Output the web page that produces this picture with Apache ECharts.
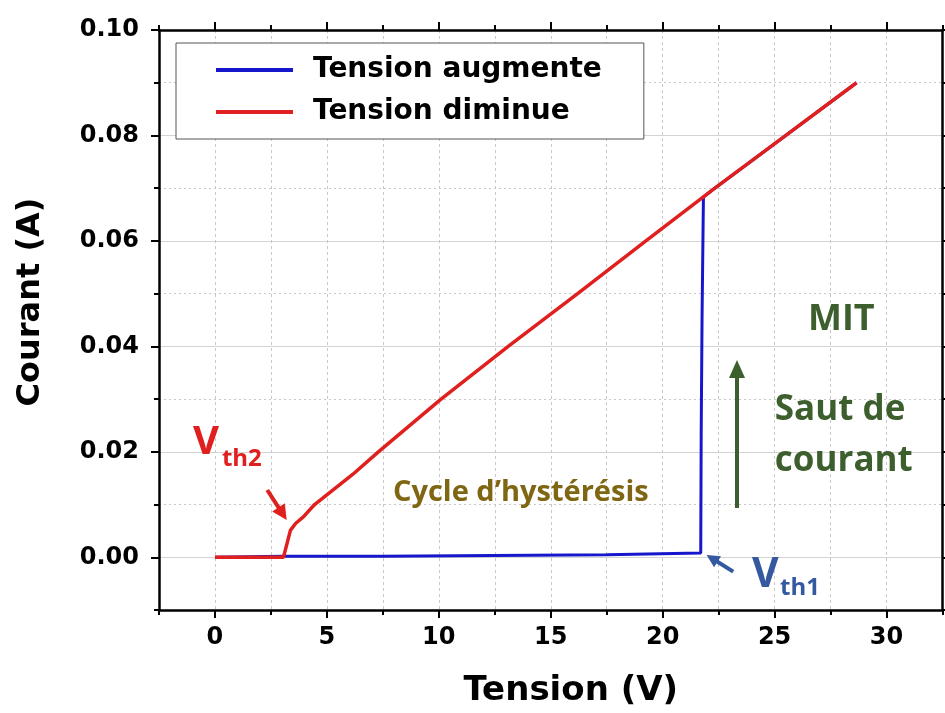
<!DOCTYPE html>
<html><head><meta charset="utf-8">
<script src="https://cdn.jsdelivr.net/npm/echarts@6/dist/echarts.min.js"></script>
<style>html,body{margin:0;padding:0;background:#fff}#c{width:945px;height:713px}</style>
</head><body><div id="c"></div>
<script>
// ---- data ----
const seriesNames = ['Tension augmente', 'Tension diminue'];
const upV   = [0, 3.06, 7.45, 7.5, 17.5, 17.55, 21.7, 21.72, 21.76, 21.82, 22.33, 25.5, 28.66];
const upI   = [0, 0.0002, 0.0002, 0.0005, 0.0005, 0.0007, 0.0008, 0.023, 0.046, 0.0683, 0.070, 0.080, 0.090];
const downV = [28.66, 25.5, 22.33, 19.25, 16.2, 13.1, 10.1, 7.3, 6.15, 4.45, 3.96, 3.6, 3.37, 3.06, 0];
const downI = [0.090, 0.080, 0.070, 0.060, 0.050, 0.040, 0.030, 0.020, 0.0157, 0.010, 0.0077, 0.0064, 0.0051, 0, 0];
const xMajorTicks = [0, 5, 10, 15, 20, 25, 30];
const xMinorTicks = [-2.5, 2.5, 7.5, 12.5, 17.5, 22.5, 27.5, 32.5];
const yMajorTicks = [0, 0.02, 0.04, 0.06, 0.08, 0.10];
const yMinorTicks = [-0.01, 0.01, 0.03, 0.05, 0.07, 0.09];
const xTitle = 'Tension (V)';
const yTitle = 'Courant (A)';

// annotations (data coordinates)
const notes = [
  {text: 'V', x: -0.98, y: 0.02167, size: 40, color: '#e0201e'},
  {text: 'th2', x: 0.31, y: 0.01864, size: 24, color: '#e0201e'},
  {text: 'Cycle d\u2019hystérésis', x: 7.95, y: 0.0122, size: 29, color: '#7f6612'},
  {text: 'MIT', x: 26.49, y: 0.04501, size: 36, color: '#3d5f2e'},
  {text: 'Saut de', x: 25.01, y: 0.02794, size: 35, color: '#3d5f2e'},
  {text: 'courant', x: 25.01, y: 0.01826, size: 35, color: '#3d5f2e'},
  {text: 'V', x: 23.99, y: -0.00345, size: 41, color: '#3459a0'},
  {text: 'th1', x: 25.24, y: -0.00582, size: 24, color: '#3459a0'}
];
const arrows = [
  {from: [23.32, 0.00935], to: [23.32, 0.03742], color: '#3d5f2e', width: 4, head: 18, headW: 16},
  {from: [2.336, 0.01276], to: [3.203, 0.00707], color: '#e0201e', width: 4, head: 15, headW: 15},
  {from: [23.15, -0.00273], to: [21.96, 0.00044], color: '#3459a0', width: 4, head: 13, headW: 13}
];

// ---- layout ----
const X = {min: -2.5, max: 32.5};
const Y = {min: -0.01, max: 0.10};
const gridL = 159, gridR = 2.5, gridT = 30, gridB = 103;
const plotH = 713 - gridT - gridB;
const zeroPix = gridT + (Y.max - 0) / (Y.max - Y.min) * plotH;

const tickFont = {fontFamily: 'DejaVu Sans', fontWeight: 'bold', fontSize: 24, color: '#000'};
const lineSt = {color: '#000', width: 2.5};

function xAx(pos, ticks, len, extra) {
  return Object.assign({
    type: 'value', gridIndex: 0, position: pos, min: X.min, max: X.max, interval: 2.5,
    axisLine: {show: false, onZero: false},
    axisTick: {show: true, customValues: ticks, length: len, inside: false, lineStyle: {color: '#000', width: 2}},
    axisLabel: {show: false},
    splitLine: {show: false}
  }, extra || {});
}
function yAx(pos, ticks, len, extra) {
  return Object.assign({
    type: 'value', gridIndex: 0, position: pos, min: Y.min, max: Y.max, interval: 0.01,
    axisLine: {show: false, onZero: false},
    axisTick: {show: true, customValues: ticks, length: len, inside: false, lineStyle: {color: '#000', width: 2}},
    axisLabel: {show: false},
    splitLine: {show: false}
  }, extra || {});
}

const chart = echarts.init(document.getElementById('c'), null, {renderer: 'canvas'});
chart.setOption({
  animation: false,
  backgroundColor: '#fff',
  grid: [
    {left: gridL, right: gridR, top: gridT, bottom: gridB, containLabel: false},
    {left: gridL, right: gridR, top: gridT, bottom: 713 - zeroPix, containLabel: false}
  ],
  xAxis: [
    xAx('bottom', xMajorTicks, 8, {
      axisLine: {show: true, onZero: false, lineStyle: lineSt},
      axisLabel: Object.assign({show: true, customValues: xMajorTicks, margin: 16,
        formatter: v => String(v)}, tickFont),
      name: xTitle, nameLocation: 'middle', nameGap: 64,
      nameTextStyle: {fontFamily: 'DejaVu Sans', fontWeight: 'bold', fontSize: 34, color: '#000', padding: [0, 0, 0, 40]}
    }),
    xAx('bottom', xMinorTicks, 5),
    xAx('top', xMajorTicks, 8, {axisLine: {show: true, onZero: false, lineStyle: lineSt}}),
    xAx('top', xMinorTicks, 5),
    {type: 'value', gridIndex: 0, min: X.min, max: X.max, interval: 2.5, position: 'bottom',
      axisLine: {show: false}, axisTick: {show: false}, axisLabel: {show: false},
      splitLine: {show: true, lineStyle: {color: '#c8c8c8', width: 1, type: [3, 3]}}},
    {type: 'value', gridIndex: 1, min: X.min, max: X.max, interval: 2.5, show: false}
  ],
  yAxis: [
    yAx('left', yMajorTicks, 8, {
      axisLine: {show: true, onZero: false, lineStyle: lineSt},
      axisLabel: Object.assign({show: true, customValues: yMajorTicks, margin: 20,
        formatter: v => v.toFixed(2)}, tickFont),
      name: yTitle, nameLocation: 'middle', nameGap: 112, nameRotate: 90,
      nameTextStyle: {fontFamily: 'DejaVu Sans', fontWeight: 'bold', fontSize: 32, color: '#000', padding: [0, 0, 0, 36]}
    }),
    yAx('left', yMinorTicks, 5),
    yAx('right', yMajorTicks, 8, {axisLine: {show: true, onZero: false, lineStyle: lineSt}}),
    yAx('right', yMinorTicks, 5),
    {type: 'value', gridIndex: 0, min: Y.min, max: Y.max, interval: 0.02, position: 'left',
      axisLine: {show: false}, axisTick: {show: false}, axisLabel: {show: false},
      splitLine: {show: true, lineStyle: {color: '#c8c8c8', width: 1, type: [2, 3]}}},
    {type: 'value', gridIndex: 1, min: 0, max: Y.max, interval: 0.02, position: 'left',
      axisLine: {show: false}, axisTick: {show: false}, axisLabel: {show: false},
      splitLine: {show: true, lineStyle: {color: '#d4d4d4', width: 1.2, type: 'solid'}}}
  ],
  legend: {
    data: seriesNames, orient: 'vertical', left: 176, top: 43,
    icon: 'rect', itemWidth: 77, itemHeight: 4, itemGap: 12,
    padding: [12, 42, 12, 40],
    borderColor: '#555', borderWidth: 1, backgroundColor: '#fff',
    textStyle: {fontFamily: 'DejaVu Sans', fontWeight: 'bold', fontSize: 28, color: '#000',
      lineHeight: 30, padding: [0, 0, 0, 15]}
  },
  series: [
    {name: seriesNames[0], type: 'line', xAxisIndex: 0, yAxisIndex: 0, showSymbol: false,
      lineStyle: {color: '#1616cc', width: 3}, itemStyle: {color: '#1616cc'},
      data: upV.map((v, i) => [v, upI[i]]), z: 3},
    {name: seriesNames[1], type: 'line', xAxisIndex: 0, yAxisIndex: 0, showSymbol: false,
      lineStyle: {color: '#e0201e', width: 3.5}, itemStyle: {color: '#e0201e'},
      data: downV.map((v, i) => [v, downI[i]]), z: 4}
  ]
});

// annotations placed through the chart's own coordinate conversion
const P = (x, y) => chart.convertToPixel({gridIndex: 0}, [x, y]);
const gfx = [];
notes.forEach(n => {
  const p = P(n.x, n.y);
  gfx.push({type: 'text', x: p[0], y: p[1], z: 10,
    style: {text: n.text, fill: n.color, font: 'bold ' + n.size + 'px "Open Sans"',
      textAlign: 'left', textVerticalAlign: 'middle', verticalAlign: 'middle'}});
});
arrows.forEach(a => {
  const s = P(a.from[0], a.from[1]), t = P(a.to[0], a.to[1]);
  const dx = t[0] - s[0], dy = t[1] - s[1], L = Math.hypot(dx, dy);
  const ux = dx / L, uy = dy / L, nx = -uy, ny = ux;
  const bx = t[0] - ux * a.head, by = t[1] - uy * a.head;
  gfx.push({type: 'line', z: 10, shape: {x1: s[0], y1: s[1], x2: bx + ux * 2, y2: by + uy * 2},
    style: {stroke: a.color, lineWidth: a.width}});
  gfx.push({type: 'polygon', z: 10, shape: {points: [[t[0], t[1]],
    [bx + nx * a.headW / 2, by + ny * a.headW / 2], [bx - nx * a.headW / 2, by - ny * a.headW / 2]]},
    style: {fill: a.color}});
});
chart.setOption({graphic: gfx});
</script></body></html>
